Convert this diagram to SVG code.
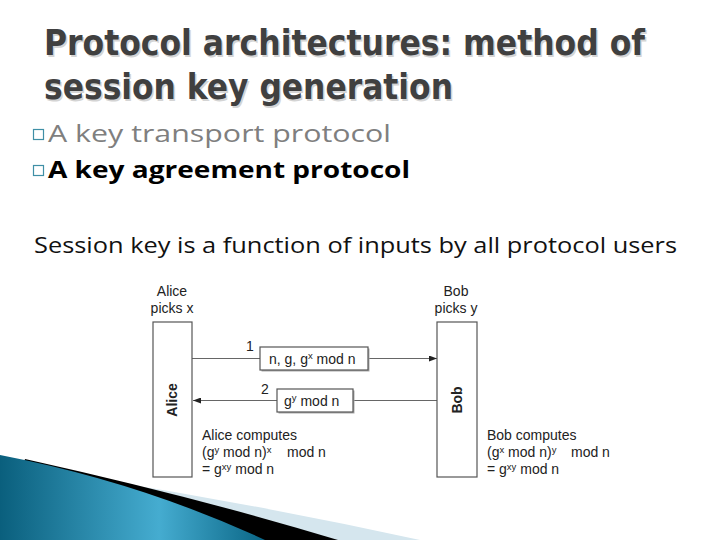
<svg xmlns="http://www.w3.org/2000/svg" width="720" height="540" viewBox="0 0 720 540">
<defs>
<linearGradient id="blueg" x1="0" y1="0" x2="265" y2="0" gradientUnits="userSpaceOnUse">
<stop offset="0" stop-color="#0a5f7d"/>
<stop offset="0.6" stop-color="#45acd0"/>
<stop offset="1" stop-color="#0a6686"/>
</linearGradient>
<marker id="arr" viewBox="0 0 8 6" refX="8" refY="3" markerWidth="8" markerHeight="6" markerUnits="userSpaceOnUse" orient="auto">
<path d="M0,0 L8,3 L0,6 Z" fill="#222"/>
</marker>
<style>
.title{font-family:"DejaVu Sans Condensed","DejaVu Sans","Liberation Sans",sans-serif;font-stretch:condensed;font-weight:bold;font-size:36px;fill:#404040}
.tshadow{font-family:"DejaVu Sans Condensed","DejaVu Sans","Liberation Sans",sans-serif;font-stretch:condensed;font-weight:bold;font-size:36px;fill:#d4d4d4}
.b1{font-family:"Open Sans","Noto Sans",sans-serif;font-size:23px;fill:#7f7f7f}
.b2{font-family:"Open Sans","Noto Sans",sans-serif;font-size:23px;font-weight:bold;fill:#000}
.sess{font-family:"Open Sans","Noto Sans",sans-serif;font-size:21px;fill:#111}
.bul{fill:none;stroke:#3f8fa6;stroke-width:1.2}
.d{font-family:"Liberation Sans",Arial,sans-serif;font-size:14px;fill:#222}
.dm{font-family:"Liberation Sans",Arial,sans-serif;font-size:14px;fill:#222;text-anchor:middle}
.sup{font-size:9.5px}
.party{fill:#fff;stroke:#555;stroke-width:1.2}
.msg{fill:#fff;stroke:#555;stroke-width:1.2}
.shadow{fill:#aaa}
.conn{stroke:#666;stroke-width:1;fill:none}
</style>
</defs>
<rect width="720" height="540" fill="#fff"/>

<!-- bottom-left decoration -->
<path d="M90,478 Q260,505 420,540 L0,540 Z" fill="#d5e6ee"/>
<path d="M25,459 Q200,498 338,540 L0,540 Z" fill="#000"/>
<path d="M0,455 Q140,482 265,540 L0,540 Z" fill="url(#blueg)"/>

<!-- title -->
<g id="title">
<text class="tshadow" x="45.5" y="56.5" textLength="601" lengthAdjust="spacingAndGlyphs">Protocol architectures: method of</text>
<text class="tshadow" x="45.5" y="100.5" textLength="409" lengthAdjust="spacingAndGlyphs">session key generation</text>
<text class="title" x="44" y="55" textLength="601" lengthAdjust="spacingAndGlyphs">Protocol architectures: method of</text>
<text class="title" x="44" y="99" textLength="409" lengthAdjust="spacingAndGlyphs">session key generation</text>
</g>

<g id="bullets">
<rect class="bul" x="33.5" y="129.5" width="10" height="10"/>
<text class="b1" x="48" y="142" textLength="343" lengthAdjust="spacingAndGlyphs">A key transport protocol</text>
<rect class="bul" x="33.5" y="165.5" width="10" height="10"/>
<text class="b2" x="48" y="178" textLength="362" lengthAdjust="spacingAndGlyphs">A key agreement protocol</text>
</g>

<text class="sess" x="34" y="253" textLength="643" lengthAdjust="spacingAndGlyphs">Session key is a function of inputs by all protocol users</text>

<!-- connectors -->
<g id="connectors">
<line class="conn" x1="192" y1="358.5" x2="260" y2="358.5"/>
<line class="conn" x1="368" y1="358.5" x2="437" y2="358.5" marker-end="url(#arr)"/>
<line class="conn" x1="437" y1="400.5" x2="353" y2="400.5"/>
<line class="conn" x1="277" y1="400.5" x2="193" y2="400.5" marker-end="url(#arr)"/>
<text class="d" x="246" y="351">1</text>
<text class="d" x="261" y="394">2</text>
</g>

<g id="msg1">
<rect class="shadow" x="261.5" y="348.5" width="108" height="23"/>
<rect class="msg" x="260" y="347" width="108" height="23"/>
<text class="d" x="269" y="363.5">n, g, g<tspan class="sup" dy="-4.5">x</tspan><tspan dy="4.5"> mod n</tspan></text>
</g>

<g id="msg2">
<rect class="shadow" x="278.5" y="390.5" width="76" height="23"/>
<rect class="msg" x="277" y="389" width="76" height="23"/>
<text class="d" x="284" y="405.5">g<tspan class="sup" dy="-4.5">y</tspan><tspan dy="4.5"> mod n</tspan></text>
</g>

<g id="alice">
<text class="dm" x="172" y="296">Alice</text>
<text class="dm" x="172" y="313">picks x</text>
<rect class="party" x="153" y="322" width="39" height="155"/>
<text class="dm" font-weight="bold" transform="translate(177,400) rotate(-90)">Alice</text>
<text class="d" x="202" y="440">Alice computes</text>
<text class="d" x="202" y="457">(g<tspan class="sup" dy="-4.5">y</tspan><tspan dy="4.5"> mod n)</tspan><tspan class="sup" dy="-4.5">x</tspan><tspan dy="4.5" x="287">mod n</tspan></text>
<text class="d" x="202" y="474">= g<tspan class="sup" dy="-4.5">xy</tspan><tspan dy="4.5"> mod n</tspan></text>
</g>

<g id="bob">
<text class="dm" x="456" y="296">Bob</text>
<text class="dm" x="456" y="313">picks y</text>
<rect class="party" x="437" y="322" width="40" height="155"/>
<text class="dm" font-weight="bold" transform="translate(461.5,400) rotate(-90)">Bob</text>
<text class="d" x="487" y="440">Bob computes</text>
<text class="d" x="487" y="457">(g<tspan class="sup" dy="-4.5">x</tspan><tspan dy="4.5"> mod n)</tspan><tspan class="sup" dy="-4.5">y</tspan><tspan dy="4.5" x="571">mod n</tspan></text>
<text class="d" x="487" y="474">= g<tspan class="sup" dy="-4.5">xy</tspan><tspan dy="4.5"> mod n</tspan></text>
</g>
</svg>
